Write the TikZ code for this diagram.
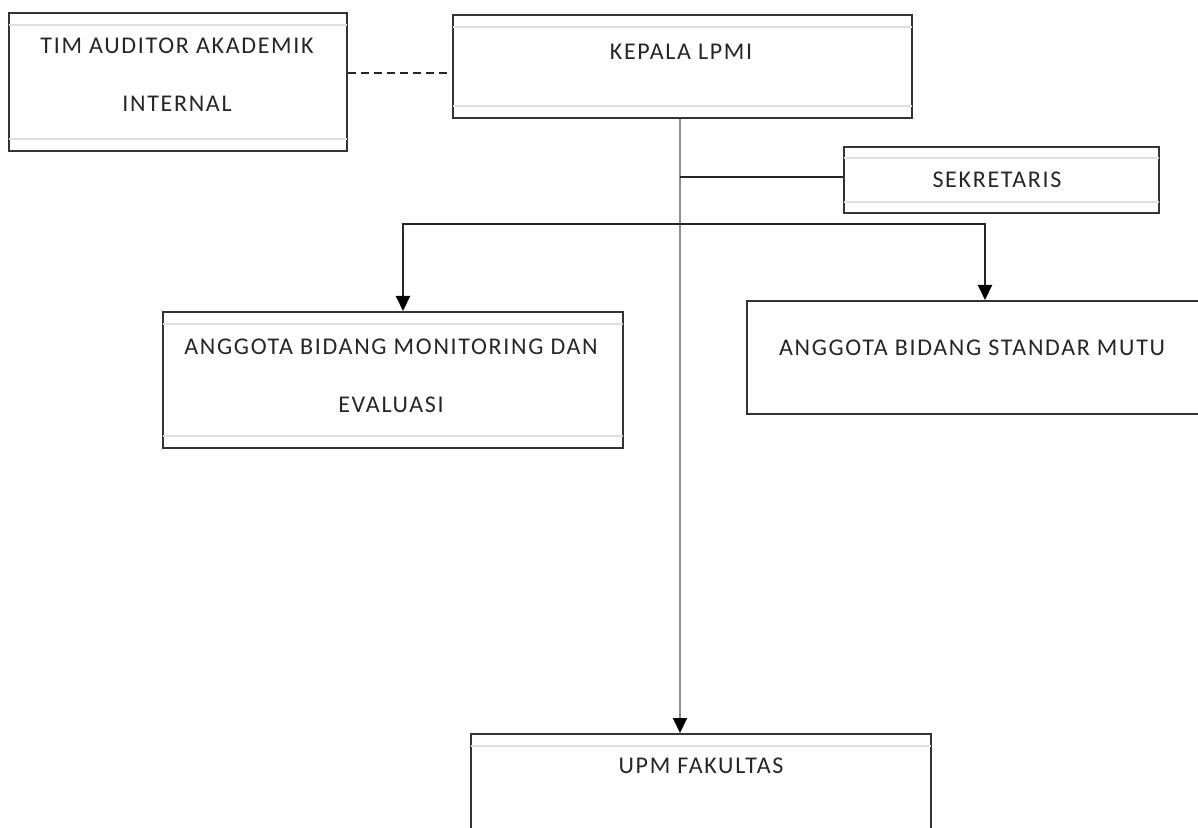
\documentclass[tikz,border=0pt]{standalone}
\usepackage{fontspec}
\setmainfont{Carlito}[LetterSpace=7]
\usetikzlibrary{arrows.meta}
\tikzset{
  box/.style={draw=black!80, line width=1.1pt, inner sep=0pt, anchor=north west},
  inner/.style={draw=black!12, line width=0.8pt},
  lbl/.style={font=\fontsize{12}{14}\selectfont, text=black!85, inner sep=0pt},
  conn/.style={draw=black!85, line width=1pt},
  gconn/.style={draw=black!45, line width=1pt},
  arr/.style={-{Triangle[width=7pt,length=7.5pt,color=black]}},
}
\begin{document}
\begin{tikzpicture}[x=0.5pt,y=-0.5pt]
\useasboundingbox (0,0) rectangle (1198,828);
% boxes
\node[box, minimum width=338*0.5pt, minimum height=138*0.5pt] (tim) at (8,12) {};
\node[box, minimum width=459*0.5pt, minimum height=103*0.5pt] (kep) at (452,14) {};
\node[box, minimum width=315*0.5pt, minimum height=66*0.5pt] (sek) at (843,146) {};
\node[box, minimum width=460*0.5pt, minimum height=136*0.5pt] (mon) at (162,311) {};
\node[box, minimum width=460*0.5pt, minimum height=113*0.5pt] (std) at (746,300) {};
\node[box, minimum width=460*0.5pt, minimum height=110*0.5pt] (upm) at (470,733) {};
% inner lines
\foreach \n/\d in {tim/13, kep/13, sek/12, mon/13, upm/13}{
  \draw[inner] ([xshift=0.6pt,yshift=-\d*0.5pt]\n.north west) -- ([xshift=-0.6pt,yshift=-\d*0.5pt]\n.north east);
  \draw[inner] ([xshift=0.6pt,yshift=\d*0.5pt]\n.south west) -- ([xshift=-0.6pt,yshift=\d*0.5pt]\n.south east);
}
% texts
\node[lbl] (t1) at (177,46) {TIM AUDITOR AKADEMIK};
\node[lbl] (t2) at (177,104) {INTERNAL};
\node[lbl] (t3) at (681,52) {KEPALA LPMI};
\node[lbl] (t4) at (997,180) {SEKRETARIS};
\node[lbl] (t5) at (391,347) {ANGGOTA BIDANG MONITORING DAN};
\node[lbl] (t6) at (391,405) {EVALUASI};
\node[lbl] (t7) at (972,348) {ANGGOTA BIDANG STANDAR MUTU};
\node[lbl] (t8) at (701,766) {UPM FAKULTAS};
% connectors
\coordinate (jS) at (680,177);
\coordinate (jH) at (680,224);
\coordinate (hl) at (403,224);
\coordinate (hr) at (985,224);
\draw[conn, dashed, dash pattern=on 4pt off 2.5pt] (tim.east |- 0,73) -- (kep.west |- 0,73);
\draw[gconn, arr] (kep.south -| 680,0) -- (upm.north -| 680,0);
\draw[conn] (jS) -- (sek.west |- jS);
\draw[conn, arr] (jH) -- (hl) -- (hl |- mon.north);
\draw[conn, arr] (jH) -- (hr) -- (hr |- std.north);
\end{tikzpicture}
\end{document}
